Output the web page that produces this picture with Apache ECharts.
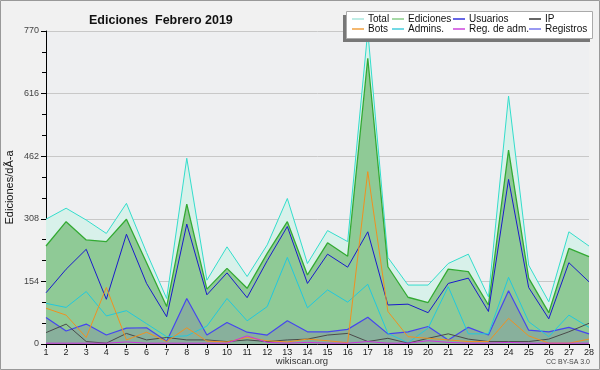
<!DOCTYPE html>
<html><head><meta charset="utf-8">
<script src="https://cdn.jsdelivr.net/npm/echarts@6/dist/echarts.min.js"></script>
<style>html,body{margin:0;padding:0;background:#f1f1f1}#c{width:600px;height:370px}</style>
</head><body><div id="c"></div>
<script>
const days = ['1','2','3','4','5','6','7','8','9','10','11','12','13','14','15','16','17','18','19','20','21','22','23','24','25','26','27','28'];
const yTicks = [0,154,308,462,616,770];
const total = [307,334,305,272,346,225,112,457,157,239,166,244,358,198,279,252,770,213,145,145,198,221,116,610,194,104,276,241];
const ediciones = [241,301,256,252,307,200,92,344,135,186,137,223,301,170,249,216,703,190,115,102,184,178,96,477,162,77,235,215];
const usuarios = [126,184,233,110,270,149,67,295,121,175,114,205,289,149,221,189,276,96,98,77,149,162,80,405,139,62,200,153];
const ip = [28,49,6,2,26,10,16,10,10,6,10,6,10,12,22,26,6,14,2,14,25,12,6,6,6,12,30,51];
const bots = [88,71,16,139,10,29,6,40,7,5,16,8,5,12,8,3,424,80,18,14,10,6,6,63,20,2,2,12];
const admins = [100,90,129,69,82,50,18,20,44,112,57,92,213,89,133,103,147,26,3,39,141,25,25,164,55,18,71,41];
const regAdm = [2,2,2,2,5,2,2,2,2,2,20,4,2,4,2,2,6,2,2,8,4,2,2,4,2,2,2,2];
const registros = [65,32,49,22,39,40,7,112,22,53,29,22,57,30,30,36,66,25,30,43,10,41,22,131,34,30,41,25];

const chart = echarts.init(document.getElementById('c'), null, {renderer:'canvas'});
const F = 'Liberation Sans, Arial, sans-serif';
function ln(name, data, color, w, z, area){
  const s = {name, type:'line', data, symbol:'none', z:z||2,
    lineStyle:{color, width:w||1}, itemStyle:{color}, emphasis:{disabled:true}};
  if(area) s.areaStyle = {color:area, opacity:1};
  return s;
}
function leg(left, items){
  return {orient:'vertical', left, top:14, padding:0, itemGap:0, itemWidth:12, itemHeight:1.5,
    icon:'rect', selectedMode:false, z:20,
    textStyle:{fontFamily:F, fontSize:10, color:'#111', lineHeight:10, padding:[0,0,0,-1]},
    data:items.map(([n,c])=>({name:n, itemStyle:{color:c}}))};
}
chart.setOption({
  animation:false,
  backgroundColor:'#f1f1f1',
  title:{text:'Ediciones  Febrero 2019', left:84, top:9,
    textStyle:{fontFamily:F, fontSize:12.5, fontWeight:'bold', color:'#111'}},
  legend:[
    leg(352,[['Total','#a8e6dc'],['Bots','#f0a040']]),
    leg(392,[['Ediciones','#88cc88'],['Admins.','#44ccdd']]),
    leg(453,[['Usuarios','#3333dd'],['Reg. de adm.','#cc44dd']]),
    leg(529,[['IP','#333333'],['Registros','#7777ee']])
  ],
  grid:{left:46, right:11, top:31, bottom:26, show:true, backgroundColor:'#eeeff1', borderWidth:0,
    containLabel:false, outerBoundsMode:'none'},
  xAxis:{type:'category', data:days, boundaryGap:false,
    axisLine:{lineStyle:{color:'#000', width:1}},
    axisTick:{show:true, length:4, alignWithLabel:true, lineStyle:{color:'#000'}},
    axisLabel:{fontFamily:F, fontSize:9, color:'#222', margin:4, interval:0}},
  yAxis:{type:'value', min:0, max:770, interval:154,
    axisLine:{show:true, lineStyle:{color:'#000'}},
    axisTick:{show:true, length:5, lineStyle:{color:'#000'}},
    minorTick:{show:true, splitNumber:3, length:4, lineStyle:{color:'#000'}},
    axisLabel:{fontFamily:F, fontSize:9, color:'#444', margin:7,
      formatter:v=>yTicks.includes(v)?String(v):''},
    splitLine:{show:true, lineStyle:{color:'#c8c8c8', width:1}},
    name:'Ediciones/dÃ-a', nameLocation:'middle', nameGap:31, nameMoveOverlap:false,
    nameTextStyle:{fontFamily:F, fontSize:11, color:'#111'}},
  graphic:[
    {type:'rect', z:5, silent:true, shape:{x:343, y:15, width:247, height:27}, style:{fill:'#777'}},
    {type:'rect', z:6, silent:true, shape:{x:346.5, y:11.5, width:246, height:27}, style:{fill:'#fff', stroke:'#aaa', lineWidth:1}},
    {type:'text', silent:true, x:302, y:361, style:{text:'wikiscan.org', font:'9.5px '+F, fill:'#333', align:'center', verticalAlign:'middle'}},
    {type:'text', silent:true, right:10, top:359, style:{text:'CC BY-SA 3.0', font:'7px '+F, fill:'#444'}},
    {type:'rect', silent:true, shape:{x:0.5, y:0.5, width:599, height:369}, style:{fill:'none', stroke:'#999', lineWidth:1}}
  ],
  series:[
    ln('Total', total, '#33ddcc', 1, 1, '#d8f1ea'),
    ln('Ediciones', ediciones, '#33aa33', 1.3, 1.1, '#8fca96'),
    ln('Registros', registros, '#4646ee', 1.2, 1.2, 'rgba(120,120,170,0.32)'),
    ln('Usuarios', usuarios, '#1a1acc', 1, 2),
    ln('Admins.', admins, '#22c8dd', 1, 2),
    ln('IP', ip, '#4a4a4a', 1, 2),
    ln('Bots', bots, '#f09020', 1, 2),
    ln('Reg. de adm.', regAdm, '#cc33dd', 1, 2)
  ]
});
</script></body></html>
